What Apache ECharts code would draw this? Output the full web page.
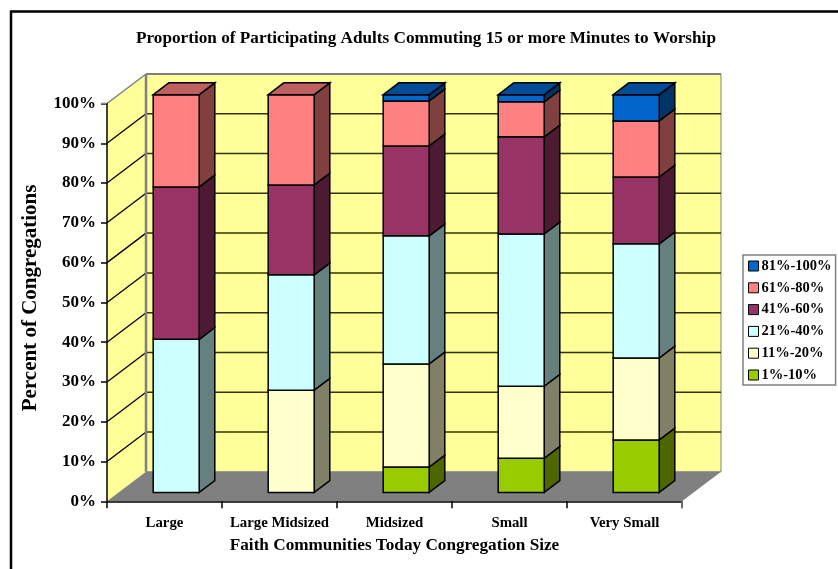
<!DOCTYPE html>
<html>
<head>
<meta charset="utf-8">
<title>Commuting to Worship</title>
<script src="https://cdn.jsdelivr.net/npm/echarts@6/dist/echarts.min.js"></script>
<style>
html, body { margin: 0; padding: 0; background: #fff; }
#chart { width: 838px; height: 569px; }
</style>
</head>
<body>
<div id="chart"></div>
<script>
var categories = ['Large', 'Large Midsized', 'Midsized', 'Small', 'Very Small'];
var seriesNames = ['1%-10%', '11%-20%', '21%-40%', '41%-60%', '61%-80%', '81%-100%'];
// percent of congregations
var pct1to10 = [0, 0, 6.4, 8.6, 13.2];
var pct11to20 = [0, 25.7, 25.9, 18.1, 20.6];
var pct21to40 = [38.5, 29, 32.2, 38.3, 28.7];
var pct41to60 = [38.3, 22.6, 22.6, 24.4, 16.8];
var pct61to80 = [23.2, 22.7, 11.3, 8.8, 14.1];
var pct81to100 = [0, 0, 1.6, 1.8, 6.6];
var yTicks = [0, 10, 20, 30, 40, 50, 60, 70, 80, 90, 100];

var allValues = [pct1to10, pct11to20, pct21to40, pct41to60, pct61to80, pct81to100];
var faceColors = ['#99CC00', '#FFFFCC', '#CCFFFF', '#993366', '#FF8080', '#0066CC'];
var sideColors = ['#4D6600', '#808066', '#668080', '#4D1A33', '#804040', '#003366'];
var topColors = ['#739900', '#BFBF99', '#99BFBF', '#73264D', '#BF6060', '#004C99'];

// depth of the 3d box in pixels
var depthX = 39;
var depthY = 29.5;
var barNear = 0.3;
var barFar = 0.7;
var barShare = 0.4;

function stackBase(s, c) {
	var sum = 0;
	for (var i = 0; i < s; i++) {
		sum += allValues[i][c];
	}
	return sum;
}

function isTopSegment(s, c) {
	for (var i = s + 1; i < allValues.length; i++) {
		if (allValues[i][c] > 0) {
			return false;
		}
	}
	return true;
}

function poly(points, fill, stroke, width) {
	return {
		type: 'polygon',
		shape: { points: points },
		style: { fill: fill, stroke: stroke, lineWidth: width }
	};
}

function seg(a, b, color, width) {
	return {
		type: 'line',
		shape: { x1: a[0], y1: a[1], x2: b[0], y2: b[1] },
		style: { stroke: color, lineWidth: width }
	};
}

function renderWalls(params, api) {
	var band = api.size([1, 0])[0];
	var left = api.coord([0, 0])[0] - band / 2;
	var right = api.coord([categories.length - 1, 0])[0] + band / 2;
	var y0 = api.coord([0, 0])[1];
	var y100 = api.coord([0, 100])[1];
	var kids = [];
	// back wall and side wall
	kids.push(poly([[left + depthX, y100 - depthY], [right + depthX, y100 - depthY], [right + depthX, y0 - depthY], [left + depthX, y0 - depthY]], '#FFFF99', '#808080', 1));
	kids.push(poly([[left, y100], [left + depthX, y100 - depthY], [left + depthX, y0 - depthY], [left, y0]], '#FFFF99', null, 0));
	yTicks.forEach(function(t) {
		if (t === 0 || t === 100) {
			return;
		}
		var y = api.coord([0, t])[1];
		kids.push(seg([left, y], [left + depthX, y - depthY], '#000', 1.3));
		kids.push(seg([left + depthX, y - depthY], [right + depthX, y - depthY], '#333300', 1.5));
	});
	// floor
	kids.push(poly([[left, y0], [right, y0], [right + depthX, y0 - depthY], [left + depthX, y0 - depthY]], '#808080', null, 0));
	kids.push(seg([left, y100], [left + depthX, y100 - depthY], '#808080', 1.5));
	kids.push(seg([left + depthX, y100 - depthY], [right + depthX, y100 - depthY], '#808080', 2));
	kids.push(seg([left + depthX, y100 - depthY], [left + depthX, y0 - depthY], '#808080', 2.5));
	return { type: 'group', children: kids };
}

// the outermost ticks are grey in the original
function renderEdgeTicks(params, api) {
	var band = api.size([1, 0])[0];
	var left = api.coord([0, 0])[0] - band / 2;
	var right = api.coord([categories.length - 1, 0])[0] + band / 2;
	var y0 = api.coord([0, 0])[1];
	var y100 = api.coord([0, 100])[1];
	return {
		type: 'group',
		children: [
			seg([right, y0], [right, y0 + 7], '#808080', 1.5),
			seg([left - 6, y100], [left, y100], '#808080', 1.5)
		]
	};
}

function renderSegment(params, api) {
	var s = params.seriesIndex - 2;
	var c = api.value(0);
	var v = api.value(1);
	if (!(v > 0)) {
		return null;
	}
	var base = stackBase(s, c);
	var band = api.size([1, 0])[0];
	var lowPt = api.coord([c, base]);
	var highPt = api.coord([c, base + v]);
	var x0 = lowPt[0] - band * barShare / 2 + depthX * barNear;
	var x1 = x0 + band * barShare;
	var yLow = lowPt[1] - depthY * barNear;
	var yHigh = highPt[1] - depthY * barNear;
	var dx = depthX * (barFar - barNear);
	var dy = depthY * (barFar - barNear);
	var kids = [
		poly([[x1, yLow], [x1 + dx, yLow - dy], [x1 + dx, yHigh - dy], [x1, yHigh]], sideColors[s], '#000', 1.5),
		poly([[x0, yLow], [x1, yLow], [x1, yHigh], [x0, yHigh]], faceColors[s], '#000', 1.5)
	];
	if (isTopSegment(s, c)) {
		kids.push(poly([[x0, yHigh], [x1, yHigh], [x1 + dx, yHigh - dy], [x0 + dx, yHigh - dy]], topColors[s], '#000', 1.5));
	}
	return { type: 'group', children: kids };
}

var series = [{
	name: 'walls',
	type: 'custom',
	z: 0,
	silent: true,
	renderItem: renderWalls,
	data: [[0, 0]],
	encode: { x: 0, y: 1 }
}, {
	name: 'edgeTicks',
	type: 'custom',
	z: 3,
	silent: true,
	renderItem: renderEdgeTicks,
	data: [[0, 0]],
	encode: { x: 0, y: 1 }
}];
seriesNames.forEach(function(name, s) {
	series.push({
		name: name,
		type: 'custom',
		z: 3,
		renderItem: renderSegment,
		itemStyle: { color: faceColors[s] },
		encode: { x: 0, y: 1 },
		data: allValues[s].map(function(v, c) {
			return [c, v];
		})
	});
});

var serif = '"Liberation Serif", "Times New Roman", serif';
var myChart = echarts.init(document.getElementById('chart'));
myChart.setOption({
	animation: false,
	backgroundColor: '#fff',
	title: {
		text: 'Proportion of Participating Adults Commuting 15 or more Minutes to Worship',
		left: 421,
		top: 25,
		textAlign: 'center',
		textStyle: { fontFamily: serif, fontWeight: 'bold', fontSize: 17.2, color: '#000' }
	},
	legend: {
		orient: 'vertical',
		left: 743,
		top: 255,
		padding: [3.5, 4, 2.5, 5],
		itemWidth: 10,
		itemHeight: 10,
		itemGap: 6.8,
		icon: 'rect',
		backgroundColor: '#fff',
		borderColor: '#808080',
		borderWidth: 1.5,
		selectedMode: false,
		itemStyle: { borderColor: '#000', borderWidth: 1 },
		textStyle: { fontFamily: serif, fontWeight: 'bold', fontSize: 14.5, color: '#000', padding: [0, 0, 0, -2] },
		data: seriesNames.slice().reverse()
	},
	grid: { left: 107, top: 103.5, width: 575, height: 397.8, containLabel: false },
	xAxis: {
		type: 'category',
		data: categories,
		z: 1,
		name: 'Faith Communities Today Congregation Size',
		nameLocation: 'middle',
		nameGap: 36,
		nameTextStyle: { fontFamily: serif, fontWeight: 'bold', fontSize: 17.2, color: '#000' },
		axisLine: { lineStyle: { color: '#000', width: 1.5 } },
		axisTick: { show: true, length: 7, alignWithLabel: false, lineStyle: { color: '#000', width: 1.5 } },
		axisLabel: { margin: 14, interval: 0, fontFamily: serif, fontWeight: 'bold', fontSize: 14.8, color: '#000' }
	},
	yAxis: {
		type: 'value',
		min: 0,
		max: 100,
		interval: 10,
		z: 1,
		name: 'Percent of Congregations',
		nameLocation: 'middle',
		nameGap: 66,
		nameTextStyle: { fontFamily: serif, fontWeight: 'bold', fontSize: 21, color: '#000', padding: [0, 0, 0, 9] },
		splitLine: { show: false },
		axisLine: { show: true, lineStyle: { color: '#000', width: 1.5 } },
		axisTick: { show: true, length: 6, lineStyle: { color: '#000', width: 1.5 } },
		axisLabel: { margin: 11, padding: [6, 0, 0, 0], formatter: '{value}%', fontFamily: serif, fontWeight: 'bold', fontSize: 17, color: '#000' }
	},
	graphic: [{
		type: 'polyline',
		shape: { points: [[11, 569], [11, 11.5], [838, 11.5]] },
		style: { stroke: '#000', lineWidth: 2.5, fill: null }
	}],
	series: series
});
</script>
</body>
</html>
